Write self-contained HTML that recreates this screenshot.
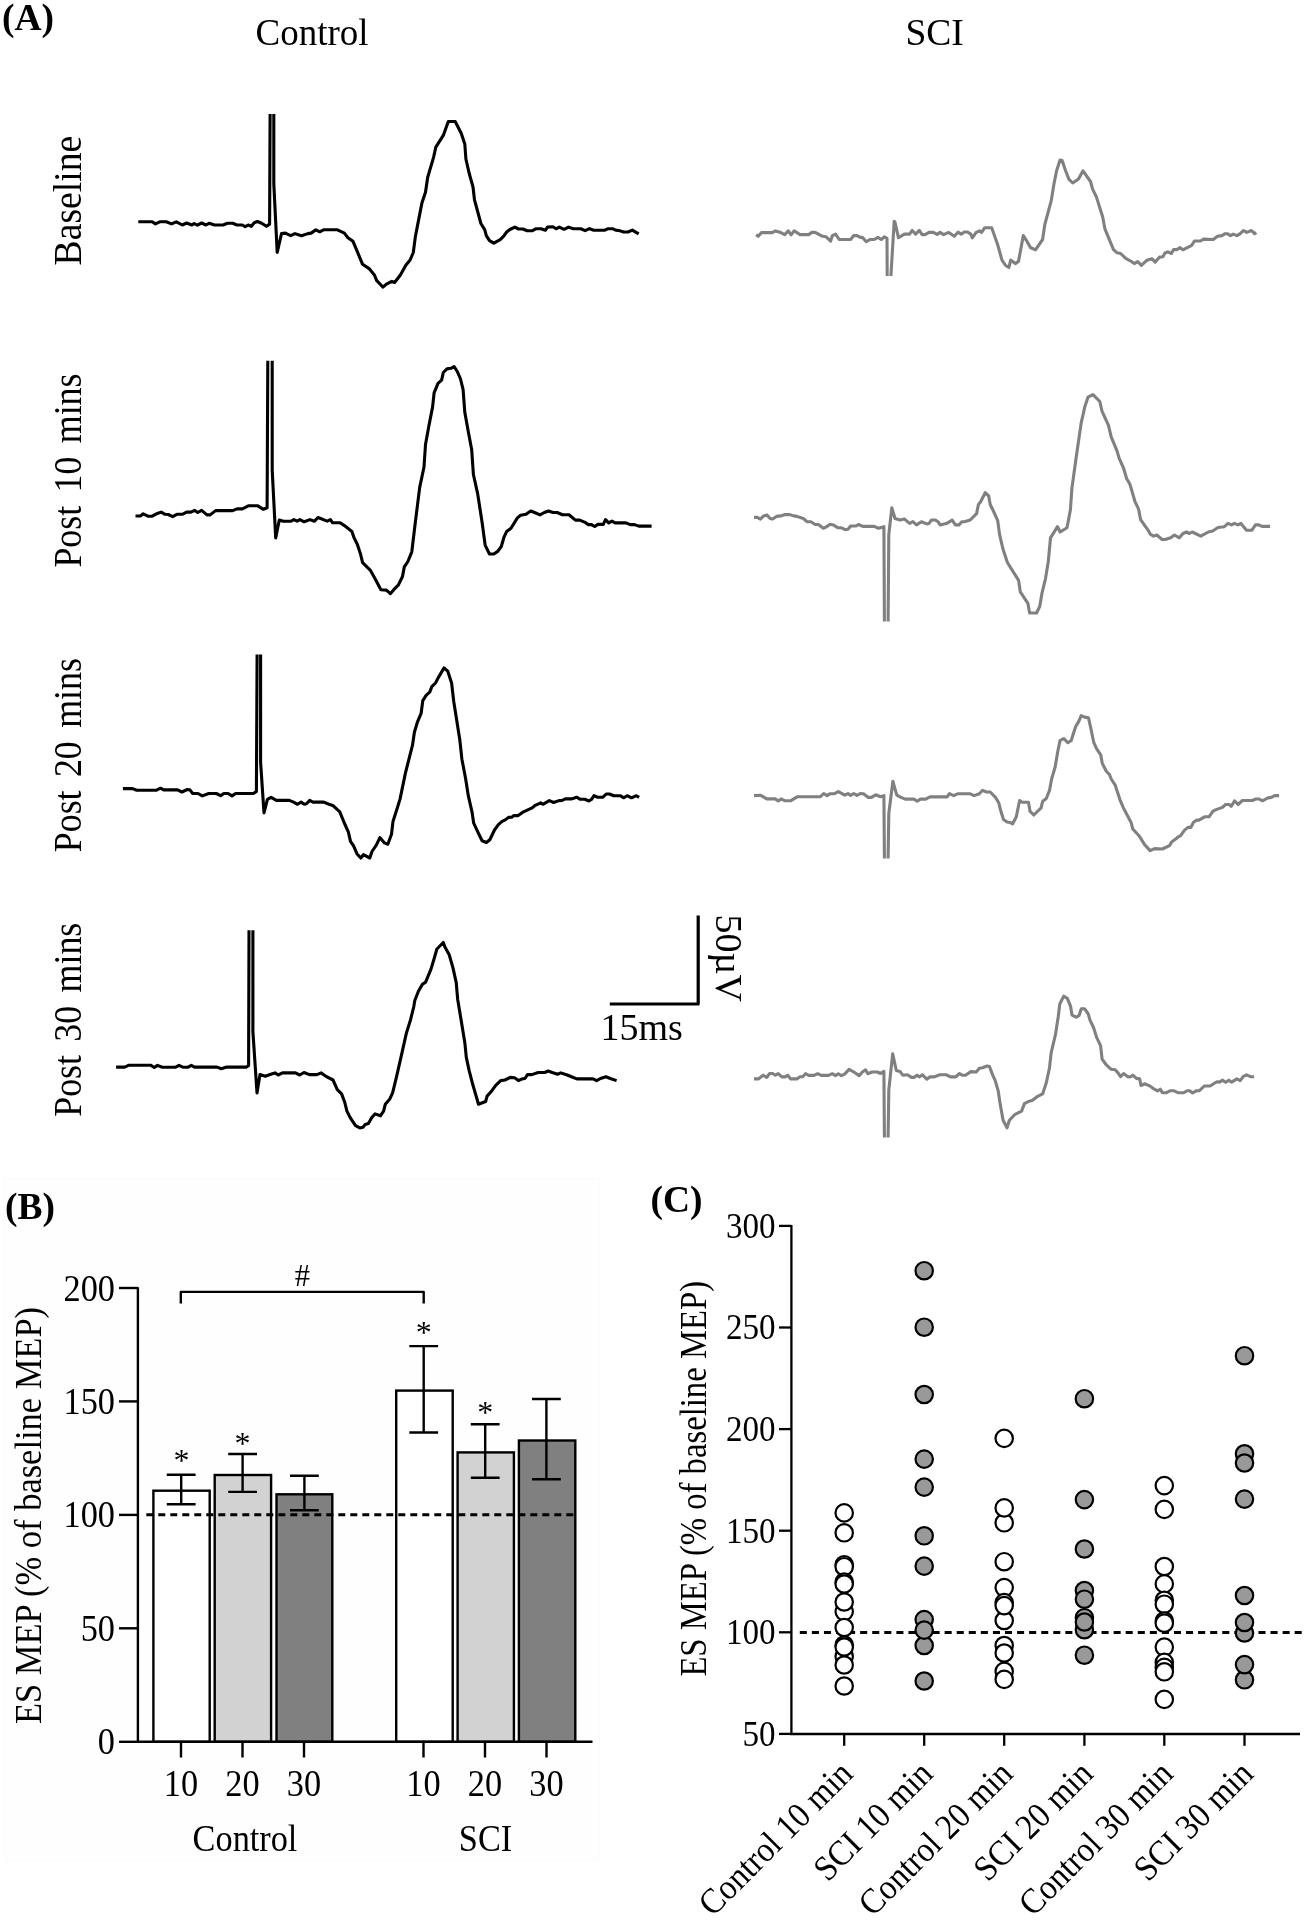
<!DOCTYPE html>
<html><head><meta charset="utf-8"><title>Figure</title>
<style>
html,body{margin:0;padding:0;background:#fff;}
body{width:1304px;height:1927px;overflow:hidden;font-family:"Liberation Serif",serif;}
svg{display:block;filter:blur(0.65px)}
svg text{font-family:"Liberation Serif",serif;fill:#000}
</style></head><body>
<svg width="1304" height="1927" viewBox="0 0 1304 1927">
<rect width="1304" height="1927" fill="#fff"/>
<path d="M138.3 221.8 L152.2 221.8 L155.4 223.9 L159.7 221.8 L166.2 221.8 L171.5 223.9 L176.3 221.8 L182.3 225.0 L186.6 223.0 L191.9 225.0 L194.1 223.5 L197.3 225.2 L201.6 223.0 L205.9 225.0 L209.1 223.3 L214.5 225.0 L223.1 225.0 L227.4 223.3 L232.7 223.3 L237.0 225.0 L242.4 225.0 L245.2 226.7 L248.2 225.0 L251.4 226.3 L254.2 222.8 L257.4 221.5 L261.7 223.3 L266.4 226.3 L269.6 224.1 L270.1 114.0 M273.8 114.0 L273.8 183.7 L277.2 252.5 L281.5 233.6 L285.3 233.1 L290.7 235.7 L295.0 233.6 L301.4 235.7 L307.9 233.6 L311.1 233.1 L315.8 229.9 L319.7 231.8 L324.0 229.7 L336.9 229.7 L344.4 233.1 L347.6 237.4 L353.0 241.3 L362.6 264.3 L369.1 268.6 L374.4 275.0 L376.6 280.4 L383.0 287.2 L386.4 284.2 L391.8 281.4 L394.6 282.5 L400.4 275.0 L405.8 265.3 L410.1 260.0 L413.3 252.5 L415.4 236.4 L421.9 203.1 L425.5 192.3 L427.7 177.3 L433.7 156.9 L435.8 147.2 L443.3 135.4 L448.3 121.5 L455.2 121.5 L461.2 133.3 L464.8 144.0 L465.9 159.0 L469.1 173.0 L473.0 187.0 L474.5 199.8 L480.9 223.5 L484.8 229.9 L486.3 235.7 L489.5 240.6 L493.8 243.2 L497.0 241.3 L500.2 239.6 L503.5 236.4 L506.7 232.0 L509.9 229.5 L514.8 227.1 L518.5 229.0 L522.8 229.0 L527.1 230.8 L532.0 230.8 L535.7 228.8 L541.0 228.8 L545.3 230.3 L547.5 227.1 L552.9 226.7 L556.1 228.8 L559.3 227.1 L564.2 229.3 L568.5 227.1 L573.3 228.8 L580.8 228.8 L585.1 230.6 L589.4 228.6 L593.7 230.3 L604.4 230.3 L607.6 228.8 L613.0 228.8 L616.2 230.3 L619.4 230.6 L623.7 232.0 L628.0 232.0 L632.3 230.1 L638.7 233.8" fill="none" stroke="#000" stroke-width="3.1" stroke-linejoin="round" stroke-linecap="butt"/>
<path d="M135.5 516.0 L140.4 516.0 L143.2 513.8 L147.9 516.2 L152.2 516.2 L156.5 513.8 L161.2 512.1 L165.1 514.3 L168.3 514.5 L172.6 516.6 L176.9 514.3 L182.3 514.3 L186.6 512.1 L190.9 512.1 L194.7 510.4 L197.7 512.5 L201.6 510.4 L207.0 514.9 L210.2 514.9 L215.6 510.6 L232.7 510.6 L237.0 508.9 L242.4 508.9 L248.8 505.7 L257.4 505.7 L263.4 509.3 L267.1 507.8 L267.8 360.7 M272.2 360.7 L272.2 470.2 L275.7 537.9 L279.3 520.0 L283.2 521.3 L290.7 521.3 L293.9 519.6 L297.1 521.1 L299.9 519.6 L304.2 521.8 L310.0 519.6 L314.3 521.3 L318.0 517.5 L327.2 521.1 L330.4 519.6 L332.6 522.8 L340.1 522.8 L344.4 525.6 L351.9 531.4 L354.1 537.9 L357.3 544.3 L360.5 554.0 L362.6 562.6 L370.2 570.1 L374.4 577.6 L380.9 589.8 L386.4 590.1 L390.3 593.7 L394.0 589.4 L398.3 585.1 L402.5 576.5 L404.3 566.9 L407.9 561.5 L411.8 551.8 L415.4 521.8 L419.7 487.4 L424.0 467.0 L425.5 444.5 L429.0 425.2 L432.6 406.9 L434.1 392.9 L438.0 383.3 L441.6 380.1 L443.3 372.5 L447.0 368.9 L450.9 368.3 L454.1 366.7 L457.3 371.5 L460.5 379.0 L463.1 389.7 L464.8 412.3 L468.5 432.7 L471.7 449.8 L473.4 474.5 L477.7 493.9 L482.0 521.8 L485.2 545.4 L489.5 554.0 L493.8 554.0 L497.7 551.4 L501.3 546.5 L504.1 536.8 L506.7 531.4 L511.0 528.2 L517.4 517.9 L520.6 515.3 L526.0 514.3 L530.7 511.0 L534.6 512.5 L540.0 514.9 L544.3 512.5 L548.6 511.0 L552.9 512.5 L557.1 512.5 L562.5 514.7 L569.0 514.7 L575.4 520.1 L579.7 520.1 L585.1 522.4 L588.3 524.6 L591.5 524.6 L594.7 526.5 L597.9 524.4 L603.3 524.4 L605.5 519.6 L608.7 522.9 L611.9 521.1 L615.1 522.9 L625.9 522.9 L630.2 524.6 L634.5 524.6 L638.7 526.1 L651.6 526.1" fill="none" stroke="#000" stroke-width="3.1" stroke-linejoin="round" stroke-linecap="butt"/>
<path d="M122.9 788.6 L132.5 788.6 L136.8 790.3 L156.2 790.3 L160.5 788.2 L163.7 789.9 L177.6 789.9 L181.9 792.0 L187.3 789.5 L189.9 789.9 L192.7 793.5 L198.0 793.5 L202.3 795.9 L208.8 793.5 L216.3 793.5 L220.6 795.7 L223.8 793.5 L228.1 793.5 L232.0 795.9 L235.6 793.5 L253.4 793.5 L256.4 791.4 L257.1 654.6 M260.6 654.6 L260.6 762.4 L264.0 812.9 L267.4 799.3 L271.0 797.4 L276.4 800.4 L289.3 800.4 L293.6 802.1 L297.5 804.3 L301.1 802.1 L304.3 804.3 L306.5 803.8 L309.7 800.4 L312.9 802.1 L323.7 802.1 L329.0 804.3 L333.3 805.8 L339.8 811.8 L344.1 822.5 L348.4 832.2 L350.5 841.4 L353.7 846.1 L356.9 853.7 L360.8 858.0 L363.4 854.7 L369.8 858.0 L372.0 851.5 L376.3 845.1 L379.9 837.6 L384.5 842.9 L387.8 844.2 L391.5 834.3 L393.0 821.4 L396.8 809.6 L400.1 798.9 L405.4 773.1 L412.5 745.2 L414.4 732.3 L417.2 722.7 L421.1 713.4 L422.8 700.6 L426.3 695.2 L429.7 692.2 L431.8 686.6 L435.5 683.0 L438.7 676.9 L444.1 667.9 L447.7 671.1 L451.6 682.9 L453.7 701.2 L459.8 739.8 L461.9 759.2 L465.6 778.5 L468.3 795.7 L472.0 811.8 L473.7 823.2 L477.4 831.1 L482.1 840.8 L486.4 842.5 L489.8 839.7 L494.5 830.0 L498.4 824.7 L502.1 821.4 L505.3 819.9 L508.5 817.4 L511.7 817.2 L513.9 815.6 L518.2 815.6 L523.5 811.8 L532.1 807.9 L535.3 805.3 L540.7 802.8 L542.9 804.3 L549.3 800.6 L553.6 802.5 L559.0 800.6 L562.2 800.4 L565.4 798.9 L571.8 798.9 L576.6 797.2 L580.4 799.3 L584.7 799.3 L589.0 801.0 L591.6 799.3 L594.0 795.7 L597.6 797.2 L603.0 797.2 L606.2 794.0 L609.4 794.0 L613.7 795.7 L620.2 795.7 L623.8 797.8 L627.2 795.7 L631.5 797.8 L636.3 795.7 L639.1 797.4" fill="none" stroke="#000" stroke-width="3.1" stroke-linejoin="round" stroke-linecap="butt"/>
<path d="M116.1 1067.1 L124.7 1067.1 L129.0 1065.2 L150.5 1065.2 L154.3 1067.5 L157.5 1065.4 L162.3 1067.3 L175.2 1067.3 L179.0 1065.4 L183.3 1067.3 L187.6 1067.3 L191.3 1065.4 L194.5 1067.1 L217.0 1067.1 L221.3 1068.8 L226.7 1067.1 L246.4 1067.1 L248.6 1065.4 L249.0 930.3 M252.9 930.3 L252.9 1031.7 L257.0 1092.9 L260.0 1074.6 L265.3 1076.3 L270.7 1074.2 L275.0 1072.9 L278.2 1075.0 L282.5 1072.9 L295.4 1072.9 L299.7 1075.0 L304.0 1072.5 L309.4 1074.6 L316.9 1074.6 L321.2 1072.9 L325.5 1076.1 L333.0 1080.0 L337.3 1089.6 L341.6 1093.9 L344.8 1102.5 L346.9 1111.1 L350.2 1117.6 L355.5 1125.7 L359.8 1127.9 L363.0 1127.2 L365.2 1124.4 L368.4 1123.6 L371.8 1117.6 L375.0 1113.9 L380.4 1115.8 L383.6 1111.1 L385.3 1104.2 L389.6 1099.3 L392.6 1092.9 L396.5 1076.8 L401.9 1053.1 L406.2 1033.8 L410.5 1019.9 L413.7 1007.0 L414.8 1000.5 L418.4 991.3 L422.3 984.4 L425.5 982.3 L430.9 969.4 L434.1 958.7 L436.9 949.0 L443.3 942.5 L444.8 946.8 L449.1 954.4 L452.8 967.2 L456.2 982.3 L457.7 999.5 L460.9 1018.8 L464.8 1042.4 L466.3 1057.4 L469.1 1070.3 L472.7 1084.3 L478.5 1104.2 L485.6 1101.5 L487.1 1096.1 L491.0 1091.8 L495.7 1085.4 L500.7 1080.6 L504.9 1080.0 L510.3 1077.4 L514.6 1077.8 L518.5 1080.6 L522.1 1078.9 L524.9 1078.5 L527.5 1074.6 L531.8 1074.6 L538.2 1072.5 L544.7 1072.5 L548.3 1071.0 L552.2 1072.5 L557.6 1074.2 L560.8 1072.9 L567.2 1075.0 L571.5 1076.8 L576.9 1078.9 L593.0 1078.9 L596.6 1080.6 L600.5 1078.5 L605.9 1076.8 L610.2 1078.5 L616.6 1080.6" fill="none" stroke="#000" stroke-width="3.1" stroke-linejoin="round" stroke-linecap="butt"/>
<path d="M756.1 234.8 L758.3 236.3 L761.5 232.6 L772.2 232.6 L775.4 230.9 L780.8 232.6 L784.7 234.6 L788.3 230.9 L791.1 234.8 L794.1 230.9 L800.1 234.6 L808.7 234.6 L811.9 232.4 L815.2 232.4 L821.6 235.9 L825.9 236.7 L830.6 241.2 L832.3 235.6 L835.6 234.1 L839.2 239.5 L850.6 239.5 L853.8 235.6 L857.0 235.6 L860.3 237.4 L862.4 237.4 L866.3 241.7 L869.9 239.5 L874.2 239.5 L877.9 237.4 L881.3 239.5 L884.3 236.9 L887.0 238.4 L887.2 276.0 M890.9 276.0 L894.2 221.3 L895.0 222.3 L898.5 237.8 L904.3 234.1 L909.6 234.1 L912.2 230.5 L915.6 234.1 L919.3 230.3 L922.1 234.6 L925.1 234.6 L929.0 232.4 L933.3 232.4 L937.1 234.4 L940.1 232.4 L943.6 234.6 L948.7 232.4 L954.3 236.3 L958.0 232.2 L961.2 234.1 L964.4 232.0 L967.6 232.0 L970.8 234.1 L972.3 237.8 L976.2 232.4 L979.4 230.9 L981.6 232.4 L984.8 227.7 L991.7 227.7 L997.6 244.4 L1001.9 259.9 L1005.6 265.5 L1008.9 267.4 L1010.7 260.1 L1015.3 263.6 L1018.5 261.4 L1023.3 235.6 L1026.5 240.6 L1030.4 247.5 L1035.5 249.8 L1042.6 239.5 L1044.8 224.5 L1051.2 200.9 L1054.0 183.7 L1056.6 170.8 L1060.0 160.1 L1062.1 160.5 L1065.6 170.8 L1069.0 179.4 L1072.7 183.0 L1078.5 179.0 L1083.0 170.8 L1090.5 181.5 L1092.6 189.1 L1096.3 196.6 L1102.7 217.0 L1104.9 228.8 L1110.2 241.7 L1113.5 249.6 L1117.1 252.8 L1120.6 253.5 L1125.7 258.4 L1130.6 261.0 L1134.3 263.6 L1137.7 261.6 L1141.4 265.3 L1146.8 260.3 L1152.1 258.8 L1155.3 262.1 L1159.6 257.1 L1162.9 256.7 L1165.0 253.0 L1167.8 251.8 L1171.4 253.5 L1173.6 249.6 L1176.8 249.6 L1180.0 247.7 L1182.8 249.8 L1191.8 245.3 L1194.4 241.0 L1200.4 241.0 L1203.7 239.1 L1213.3 239.5 L1217.6 236.3 L1221.9 235.6 L1225.1 233.7 L1227.3 233.7 L1230.5 235.6 L1233.3 234.1 L1236.9 235.6 L1240.2 233.7 L1243.4 230.5 L1246.6 232.4 L1251.5 230.5 L1254.6 233.7 L1256.3 232.4" fill="none" stroke="#808080" stroke-width="3.1" stroke-linejoin="round" stroke-linecap="butt"/>
<path d="M754.0 517.4 L757.2 517.4 L760.4 519.1 L763.6 515.9 L766.8 514.9 L770.1 518.5 L772.6 519.1 L776.5 516.4 L780.8 515.9 L785.1 514.6 L789.8 514.6 L793.7 515.9 L796.9 516.4 L803.3 518.5 L807.0 521.7 L810.9 521.7 L815.2 524.5 L818.4 524.5 L823.3 528.2 L825.9 527.1 L830.2 524.3 L833.4 524.9 L837.7 527.7 L840.9 527.7 L845.2 529.7 L848.0 529.2 L850.6 526.0 L856.0 526.0 L858.5 524.5 L862.8 526.4 L874.2 526.4 L878.5 528.2 L883.9 526.7 L884.4 621.6 M888.1 621.6 L888.8 534.6 L891.8 507.8 L895.0 518.5 L900.0 520.0 L904.3 518.9 L909.6 523.4 L912.9 521.7 L916.5 524.9 L921.4 521.7 L926.8 523.9 L929.0 523.4 L931.5 520.0 L935.4 520.0 L938.0 521.7 L940.1 524.9 L947.2 523.2 L952.2 520.2 L955.4 524.9 L959.0 524.9 L961.8 521.7 L964.4 521.7 L970.2 520.0 L976.6 513.6 L978.4 504.5 L980.5 502.0 L985.2 492.7 L988.7 496.0 L990.2 504.5 L993.4 511.0 L997.7 520.6 L999.6 534.6 L1003.1 549.6 L1007.4 562.5 L1012.8 571.1 L1018.6 580.3 L1020.3 591.8 L1027.9 603.3 L1029.6 613.0 L1036.5 613.0 L1039.7 606.5 L1041.9 593.7 L1045.5 578.6 L1048.3 561.4 L1050.5 537.8 L1057.5 526.7 L1060.1 532.0 L1067.0 527.7 L1070.4 509.9 L1071.9 488.4 L1076.2 457.3 L1081.2 422.9 L1084.8 406.8 L1088.0 397.2 L1093.0 394.6 L1099.8 401.5 L1102.0 411.1 L1108.4 425.1 L1111.2 436.9 L1117.0 450.9 L1119.2 458.4 L1123.5 468.0 L1126.7 478.8 L1129.9 484.1 L1134.9 501.3 L1138.5 508.8 L1140.6 519.6 L1148.2 530.3 L1150.3 534.2 L1153.5 536.1 L1156.8 535.0 L1162.1 539.5 L1165.3 539.5 L1170.7 537.8 L1174.4 535.0 L1179.3 537.8 L1183.0 533.5 L1186.4 532.0 L1189.4 533.5 L1192.2 532.0 L1200.8 536.1 L1208.3 532.0 L1212.6 531.0 L1218.0 527.5 L1224.4 526.7 L1228.0 523.4 L1231.5 524.9 L1234.5 523.4 L1237.9 524.9 L1240.9 523.4 L1246.5 530.3 L1251.7 530.3 L1255.5 524.9 L1258.8 524.9 L1262.0 526.4 L1270.1 526.4" fill="none" stroke="#808080" stroke-width="3.1" stroke-linejoin="round" stroke-linecap="butt"/>
<path d="M754.0 795.6 L760.4 795.2 L766.8 798.9 L775.4 798.9 L778.2 801.0 L781.2 798.9 L785.1 800.8 L790.5 800.8 L797.5 796.7 L820.5 796.7 L823.7 793.5 L827.0 795.6 L830.2 793.7 L834.5 793.7 L838.3 791.6 L844.8 795.2 L848.0 793.5 L850.6 795.4 L853.8 793.5 L857.0 795.4 L860.3 793.5 L863.5 793.7 L868.4 797.4 L871.4 797.4 L875.7 794.8 L880.6 796.7 L883.9 795.6 L884.4 858.6 M888.1 858.6 L888.8 813.5 L892.9 781.3 L896.8 795.2 L901.0 797.4 L905.3 799.1 L913.9 799.1 L917.2 801.2 L920.4 799.1 L925.7 799.1 L930.0 796.9 L947.2 796.9 L949.4 793.7 L953.7 795.6 L958.0 793.7 L969.8 793.7 L974.1 795.6 L979.4 793.7 L982.6 790.3 L986.5 792.0 L990.2 792.0 L995.5 797.4 L998.7 802.7 L1000.9 811.3 L1003.5 819.5 L1007.0 822.0 L1010.1 822.5 L1012.7 823.8 L1016.3 816.7 L1019.6 800.5 L1022.2 802.3 L1028.5 802.3 L1030.0 811.2 L1033.8 815.0 L1041.1 807.9 L1042.7 801.2 L1046.3 798.5 L1049.6 790.1 L1051.6 779.0 L1055.2 766.7 L1057.8 751.2 L1060.0 740.7 L1063.8 738.5 L1067.8 742.7 L1071.2 740.5 L1075.6 726.7 L1078.9 721.1 L1081.2 715.6 L1084.5 717.1 L1088.5 717.8 L1091.2 730.0 L1093.8 742.7 L1096.7 748.9 L1100.7 754.9 L1102.3 763.4 L1106.3 771.2 L1109.4 774.5 L1111.2 779.0 L1115.2 785.2 L1120.1 800.1 L1123.4 807.9 L1131.2 822.8 L1132.8 829.0 L1139.0 835.7 L1144.6 844.6 L1150.1 850.6 L1154.6 848.6 L1162.3 849.0 L1169.5 845.7 L1171.7 841.9 L1177.9 837.2 L1180.6 835.7 L1184.6 830.1 L1187.9 827.4 L1190.8 827.4 L1193.5 822.3 L1196.8 820.1 L1199.0 820.1 L1204.6 816.8 L1209.0 816.8 L1213.0 811.2 L1216.8 809.4 L1222.4 807.4 L1225.7 804.5 L1229.1 804.5 L1231.3 806.3 L1234.6 800.8 L1238.0 804.5 L1242.4 800.5 L1252.4 800.5 L1255.8 799.0 L1259.1 799.0 L1262.4 800.8 L1268.0 797.9 L1271.3 797.4 L1274.7 795.6 L1279.1 795.6" fill="none" stroke="#808080" stroke-width="3.1" stroke-linejoin="round" stroke-linecap="butt"/>
<path d="M754.0 1078.9 L758.3 1078.9 L763.2 1075.2 L766.8 1077.4 L769.6 1073.5 L772.6 1073.5 L775.4 1075.2 L778.2 1073.7 L781.9 1076.9 L785.1 1076.9 L787.7 1075.2 L790.5 1078.9 L796.9 1078.9 L800.1 1076.7 L802.7 1076.7 L805.5 1073.7 L808.7 1075.4 L814.1 1075.4 L817.7 1073.7 L821.2 1075.4 L828.5 1075.4 L832.3 1073.7 L835.6 1075.6 L838.3 1073.7 L841.4 1075.6 L844.6 1074.1 L849.1 1069.4 L853.8 1072.0 L859.2 1075.6 L862.4 1072.0 L865.6 1069.8 L867.8 1073.7 L872.1 1072.0 L877.4 1072.0 L880.6 1073.5 L883.9 1071.4 L884.4 1137.5 M888.1 1137.5 L888.8 1090.2 L892.7 1053.7 L896.3 1070.5 L900.0 1071.4 L902.8 1075.2 L907.5 1074.8 L911.4 1077.4 L913.9 1077.4 L917.2 1075.2 L919.3 1076.9 L922.5 1074.8 L926.8 1079.1 L930.0 1076.9 L934.3 1076.9 L939.7 1074.8 L946.6 1074.8 L950.4 1076.9 L955.8 1076.9 L959.5 1073.5 L962.2 1075.2 L965.5 1075.2 L970.8 1071.6 L976.2 1072.0 L979.4 1068.3 L982.6 1067.7 L986.9 1066.0 L989.5 1066.6 L992.3 1074.1 L995.2 1080.6 L998.3 1091.3 L1000.0 1103.1 L1003.1 1120.3 L1007.0 1127.8 L1009.4 1120.3 L1015.1 1114.3 L1021.6 1111.1 L1024.4 1103.6 L1028.7 1101.4 L1032.5 1100.3 L1037.7 1096.3 L1042.6 1093.9 L1046.3 1082.7 L1049.5 1067.7 L1051.2 1052.7 L1055.5 1034.4 L1058.3 1016.2 L1059.8 1003.9 L1063.7 996.2 L1067.3 998.3 L1070.5 1006.1 L1072.0 1015.1 L1076.3 1017.2 L1079.1 1015.5 L1081.3 1008.7 L1084.5 1008.7 L1088.3 1014.0 L1089.9 1019.8 L1093.7 1028.0 L1096.7 1037.6 L1100.6 1045.6 L1102.1 1059.1 L1106.0 1064.5 L1110.9 1069.2 L1115.2 1069.8 L1118.2 1073.1 L1120.6 1076.7 L1123.6 1073.5 L1127.9 1076.9 L1130.6 1076.7 L1132.8 1075.2 L1136.4 1078.4 L1139.7 1078.9 L1141.0 1085.5 L1145.0 1083.8 L1150.6 1086.4 L1154.3 1089.2 L1157.5 1090.9 L1160.3 1089.2 L1162.4 1092.8 L1166.1 1092.8 L1170.4 1090.7 L1173.6 1090.7 L1178.5 1092.8 L1183.3 1092.8 L1187.6 1090.7 L1189.7 1090.7 L1192.5 1093.0 L1196.1 1090.9 L1199.4 1090.7 L1204.3 1086.0 L1210.1 1086.0 L1214.4 1083.2 L1217.6 1081.7 L1219.8 1082.1 L1222.3 1080.2 L1225.8 1082.3 L1228.8 1080.2 L1231.6 1082.1 L1236.9 1078.9 L1240.2 1080.6 L1243.4 1076.3 L1246.6 1074.8 L1250.5 1076.7 L1254.1 1076.7" fill="none" stroke="#808080" stroke-width="3.1" stroke-linejoin="round" stroke-linecap="butt"/>
<text font-size="37.5" text-anchor="start" font-weight="bold" transform="translate(2 29.8)">(A)</text>
<text font-size="37" text-anchor="start" font-weight="normal" transform="translate(255.5 45)">Control</text>
<text font-size="37.5" text-anchor="start" font-weight="normal" transform="translate(905.5 45)">SCI</text>
<text font-size="40.5" style="word-spacing:0px" transform="translate(81.2 265.4) rotate(-90) scale(0.93 1)">Baseline</text>
<text font-size="40.5" style="word-spacing:5px" transform="translate(81.2 567.6) rotate(-90) scale(0.885 1)">Post 10 mins</text>
<text font-size="40.5" style="word-spacing:5px" transform="translate(81.2 852.2) rotate(-90) scale(0.885 1)">Post 20 mins</text>
<text font-size="40.5" style="word-spacing:5px" transform="translate(81.2 1116.8) rotate(-90) scale(0.885 1)">Post 30 mins</text>
<path d="M609.8 1004 L698.2 1004 L698.2 915.4" fill="none" stroke="#000" stroke-width="3.2" stroke-linejoin="round"/>
<text font-size="38" text-anchor="start" font-weight="normal" transform="translate(600.5 1039.5)">15ms</text>
<text font-size="38" text-anchor="start" font-weight="normal" transform="translate(716 914.5) rotate(90)">50µV</text>
<rect x="4.5" y="1178.5" width="595" height="682" fill="#fefefe" stroke="#fbfbfb" stroke-width="1"/>
<text font-size="37.5" text-anchor="start" font-weight="bold" transform="translate(5 1218.7)">(B)</text>
<rect x="153.4" y="1490.7" width="56.3" height="251.1" fill="#fff" stroke="#000" stroke-width="2.4"/>
<rect x="214.7" y="1475" width="56.4" height="266.8" fill="#d2d2d2" stroke="#000" stroke-width="2.4"/>
<rect x="276.5" y="1494.3" width="55.8" height="247.5" fill="#808080" stroke="#000" stroke-width="2.4"/>
<rect x="396.2" y="1390.6" width="56.5" height="351.2" fill="#fff" stroke="#000" stroke-width="2.4"/>
<rect x="457.6" y="1452.4" width="56.3" height="289.4" fill="#d2d2d2" stroke="#000" stroke-width="2.4"/>
<rect x="518.9" y="1440.5" width="56.4" height="301.3" fill="#808080" stroke="#000" stroke-width="2.4"/>
<path d="M146.3 1514.8 L576 1514.8" stroke="#000" stroke-width="3" stroke-dasharray="7 5" fill="none"/>
<path d="M181.2 1474.8 L181.2 1504.3 M166.79999999999998 1474.8 L195.6 1474.8 M166.79999999999998 1504.3 L195.6 1504.3" stroke="#000" stroke-width="2.4" fill="none"/>
<path d="M242.6 1454 L242.6 1491.9 M228.2 1454 L257.0 1454 M228.2 1491.9 L257.0 1491.9" stroke="#000" stroke-width="2.4" fill="none"/>
<path d="M304.4 1475.8 L304.4 1510.2 M290.0 1475.8 L318.79999999999995 1475.8 M290.0 1510.2 L318.79999999999995 1510.2" stroke="#000" stroke-width="2.4" fill="none"/>
<path d="M423.7 1346.1 L423.7 1432.5 M409.3 1346.1 L438.09999999999997 1346.1 M409.3 1432.5 L438.09999999999997 1432.5" stroke="#000" stroke-width="2.4" fill="none"/>
<path d="M485.2 1424.3 L485.2 1477.7 M470.8 1424.3 L499.59999999999997 1424.3 M470.8 1477.7 L499.59999999999997 1477.7" stroke="#000" stroke-width="2.4" fill="none"/>
<path d="M546.4 1399 L546.4 1479.3 M532.0 1399 L560.8 1399 M532.0 1479.3 L560.8 1479.3" stroke="#000" stroke-width="2.4" fill="none"/>
<path d="M137.9 1287.3 L137.9 1741.8 L592.5 1741.8" fill="none" stroke="#000" stroke-width="2.4"/>
<path d="M119 1741.8 L137.9 1741.8" stroke="#000" stroke-width="2.4"/>
<text font-size="37.4" text-anchor="end" font-weight="normal" transform="translate(115 1754.3) scale(0.917 1)">0</text>
<path d="M119 1628.3 L137.9 1628.3" stroke="#000" stroke-width="2.4"/>
<text font-size="37.4" text-anchor="end" font-weight="normal" transform="translate(115 1640.8) scale(0.917 1)">50</text>
<path d="M119 1514.9 L137.9 1514.9" stroke="#000" stroke-width="2.4"/>
<text font-size="37.4" text-anchor="end" font-weight="normal" transform="translate(115 1527.4) scale(0.917 1)">100</text>
<path d="M119 1401.4 L137.9 1401.4" stroke="#000" stroke-width="2.4"/>
<text font-size="37.4" text-anchor="end" font-weight="normal" transform="translate(115 1413.9) scale(0.917 1)">150</text>
<path d="M119 1288.0 L137.9 1288.0" stroke="#000" stroke-width="2.4"/>
<text font-size="37.4" text-anchor="end" font-weight="normal" transform="translate(115 1300.5) scale(0.917 1)">200</text>
<path d="M181 1741.8 L181 1757.5" stroke="#000" stroke-width="2.4"/>
<text font-size="37.4" text-anchor="middle" font-weight="normal" transform="translate(181 1796.3) scale(0.917 1)">10</text>
<path d="M242.5 1741.8 L242.5 1757.5" stroke="#000" stroke-width="2.4"/>
<text font-size="37.4" text-anchor="middle" font-weight="normal" transform="translate(242.5 1796.3) scale(0.917 1)">20</text>
<path d="M304 1741.8 L304 1757.5" stroke="#000" stroke-width="2.4"/>
<text font-size="37.4" text-anchor="middle" font-weight="normal" transform="translate(304 1796.3) scale(0.917 1)">30</text>
<path d="M423.5 1741.8 L423.5 1757.5" stroke="#000" stroke-width="2.4"/>
<text font-size="37.4" text-anchor="middle" font-weight="normal" transform="translate(423.5 1796.3) scale(0.917 1)">10</text>
<path d="M485 1741.8 L485 1757.5" stroke="#000" stroke-width="2.4"/>
<text font-size="37.4" text-anchor="middle" font-weight="normal" transform="translate(485 1796.3) scale(0.917 1)">20</text>
<path d="M546.5 1741.8 L546.5 1757.5" stroke="#000" stroke-width="2.4"/>
<text font-size="37.4" text-anchor="middle" font-weight="normal" transform="translate(546.5 1796.3) scale(0.917 1)">30</text>
<text font-size="37.4" text-anchor="middle" font-weight="normal" transform="translate(245 1850.5) scale(0.917 1)">Control</text>
<text font-size="37.4" text-anchor="middle" font-weight="normal" transform="translate(485.5 1850.5) scale(0.917 1)">SCI</text>
<text font-size="37" text-anchor="middle" font-weight="normal" transform="translate(40.5 1515.5) rotate(-90) scale(0.932 1)">ES MEP (% of baseline MEP)</text>
<path d="M180.8 1303.5 L180.8 1291.9 L423.7 1291.9 L423.7 1303.5" fill="none" stroke="#000" stroke-width="2.4" stroke-linejoin="round"/>
<text font-size="30.5" text-anchor="middle" font-weight="normal" transform="translate(302.4 1286)">#</text>
<text font-size="32" text-anchor="middle" font-weight="normal" transform="translate(181.4 1471.1)">*</text>
<text font-size="32" text-anchor="middle" font-weight="normal" transform="translate(242.6 1453.6)">*</text>
<text font-size="32" text-anchor="middle" font-weight="normal" transform="translate(423.7 1342.9)">*</text>
<text font-size="32" text-anchor="middle" font-weight="normal" transform="translate(485.2 1422.7)">*</text>
<text font-size="37.5" text-anchor="start" font-weight="bold" transform="translate(650.5 1212)">(C)</text>
<path d="M799.8 1632.5 L1302 1632.5" stroke="#000" stroke-width="3" stroke-dasharray="7.05 5.02" fill="none"/>
<circle cx="844.2" cy="1512.9" r="8.7" fill="#fff" stroke="#000" stroke-width="2.2"/>
<circle cx="844.2" cy="1532.8" r="8.7" fill="#fff" stroke="#000" stroke-width="2.2"/>
<circle cx="844.2" cy="1564.7" r="8.7" fill="#fff" stroke="#000" stroke-width="2.2"/>
<circle cx="844.2" cy="1566.7" r="8.7" fill="#fff" stroke="#000" stroke-width="2.2"/>
<circle cx="844.2" cy="1582" r="8.7" fill="#fff" stroke="#000" stroke-width="2.2"/>
<circle cx="844.2" cy="1584" r="8.7" fill="#fff" stroke="#000" stroke-width="2.2"/>
<circle cx="844.2" cy="1611.6" r="8.7" fill="#fff" stroke="#000" stroke-width="2.2"/>
<circle cx="844.2" cy="1602" r="8.7" fill="#fff" stroke="#000" stroke-width="2.2"/>
<circle cx="844.2" cy="1627.5" r="8.7" fill="#fff" stroke="#000" stroke-width="2.2"/>
<circle cx="844.2" cy="1656.4" r="8.7" fill="#fff" stroke="#000" stroke-width="2.2"/>
<circle cx="844.2" cy="1645" r="8.7" fill="#fff" stroke="#000" stroke-width="2.2"/>
<circle cx="844.2" cy="1647" r="8.7" fill="#fff" stroke="#000" stroke-width="2.2"/>
<circle cx="844.2" cy="1665" r="8.7" fill="#fff" stroke="#000" stroke-width="2.2"/>
<circle cx="844.2" cy="1686" r="8.7" fill="#fff" stroke="#000" stroke-width="2.2"/>
<circle cx="924.2" cy="1270.7" r="8.7" fill="#999" stroke="#000" stroke-width="2.2"/>
<circle cx="924.2" cy="1327.2" r="8.7" fill="#999" stroke="#000" stroke-width="2.2"/>
<circle cx="924.2" cy="1394.5" r="8.7" fill="#999" stroke="#000" stroke-width="2.2"/>
<circle cx="924.2" cy="1459.1" r="8.7" fill="#999" stroke="#000" stroke-width="2.2"/>
<circle cx="924.2" cy="1487.1" r="8.7" fill="#999" stroke="#000" stroke-width="2.2"/>
<circle cx="924.2" cy="1535.8" r="8.7" fill="#999" stroke="#000" stroke-width="2.2"/>
<circle cx="924.2" cy="1566.1" r="8.7" fill="#999" stroke="#000" stroke-width="2.2"/>
<circle cx="924.2" cy="1619.6" r="8.7" fill="#999" stroke="#000" stroke-width="2.2"/>
<circle cx="924.2" cy="1645.5" r="8.7" fill="#999" stroke="#000" stroke-width="2.2"/>
<circle cx="924.2" cy="1630.1" r="8.7" fill="#999" stroke="#000" stroke-width="2.2"/>
<circle cx="924.2" cy="1681" r="8.7" fill="#999" stroke="#000" stroke-width="2.2"/>
<circle cx="1004.2" cy="1438.4" r="8.7" fill="#fff" stroke="#000" stroke-width="2.2"/>
<circle cx="1004.2" cy="1522.8" r="8.7" fill="#fff" stroke="#000" stroke-width="2.2"/>
<circle cx="1004.2" cy="1507.9" r="8.7" fill="#fff" stroke="#000" stroke-width="2.2"/>
<circle cx="1004.2" cy="1561.7" r="8.7" fill="#fff" stroke="#000" stroke-width="2.2"/>
<circle cx="1004.2" cy="1587.6" r="8.7" fill="#fff" stroke="#000" stroke-width="2.2"/>
<circle cx="1004.2" cy="1602.6" r="8.7" fill="#fff" stroke="#000" stroke-width="2.2"/>
<circle cx="1004.2" cy="1620.5" r="8.7" fill="#fff" stroke="#000" stroke-width="2.2"/>
<circle cx="1004.2" cy="1605.6" r="8.7" fill="#fff" stroke="#000" stroke-width="2.2"/>
<circle cx="1004.2" cy="1645.5" r="8.7" fill="#fff" stroke="#000" stroke-width="2.2"/>
<circle cx="1004.2" cy="1653" r="8.7" fill="#fff" stroke="#000" stroke-width="2.2"/>
<circle cx="1004.2" cy="1671.4" r="8.7" fill="#fff" stroke="#000" stroke-width="2.2"/>
<circle cx="1004.2" cy="1679.4" r="8.7" fill="#fff" stroke="#000" stroke-width="2.2"/>
<circle cx="1084.4" cy="1398.7" r="8.7" fill="#999" stroke="#000" stroke-width="2.2"/>
<circle cx="1084.4" cy="1499.6" r="8.7" fill="#999" stroke="#000" stroke-width="2.2"/>
<circle cx="1084.4" cy="1549" r="8.7" fill="#999" stroke="#000" stroke-width="2.2"/>
<circle cx="1084.4" cy="1590.5" r="8.7" fill="#999" stroke="#000" stroke-width="2.2"/>
<circle cx="1084.4" cy="1599.2" r="8.7" fill="#999" stroke="#000" stroke-width="2.2"/>
<circle cx="1084.4" cy="1617.7" r="8.7" fill="#999" stroke="#000" stroke-width="2.2"/>
<circle cx="1084.4" cy="1629.7" r="8.7" fill="#999" stroke="#000" stroke-width="2.2"/>
<circle cx="1084.4" cy="1622" r="8.7" fill="#999" stroke="#000" stroke-width="2.2"/>
<circle cx="1084.4" cy="1655.2" r="8.7" fill="#999" stroke="#000" stroke-width="2.2"/>
<circle cx="1164.3" cy="1485.6" r="8.7" fill="#fff" stroke="#000" stroke-width="2.2"/>
<circle cx="1164.3" cy="1509.4" r="8.7" fill="#fff" stroke="#000" stroke-width="2.2"/>
<circle cx="1164.3" cy="1566.5" r="8.7" fill="#fff" stroke="#000" stroke-width="2.2"/>
<circle cx="1164.3" cy="1583.9" r="8.7" fill="#fff" stroke="#000" stroke-width="2.2"/>
<circle cx="1164.3" cy="1600.3" r="8.7" fill="#fff" stroke="#000" stroke-width="2.2"/>
<circle cx="1164.3" cy="1604.2" r="8.7" fill="#fff" stroke="#000" stroke-width="2.2"/>
<circle cx="1164.3" cy="1621" r="8.7" fill="#fff" stroke="#000" stroke-width="2.2"/>
<circle cx="1164.3" cy="1623.2" r="8.7" fill="#fff" stroke="#000" stroke-width="2.2"/>
<circle cx="1164.3" cy="1647.1" r="8.7" fill="#fff" stroke="#000" stroke-width="2.2"/>
<circle cx="1164.3" cy="1662.4" r="8.7" fill="#fff" stroke="#000" stroke-width="2.2"/>
<circle cx="1164.3" cy="1667.4" r="8.7" fill="#fff" stroke="#000" stroke-width="2.2"/>
<circle cx="1164.3" cy="1671.8" r="8.7" fill="#fff" stroke="#000" stroke-width="2.2"/>
<circle cx="1164.3" cy="1699.4" r="8.7" fill="#fff" stroke="#000" stroke-width="2.2"/>
<circle cx="1244.5" cy="1355.7" r="8.7" fill="#999" stroke="#000" stroke-width="2.2"/>
<circle cx="1244.5" cy="1453.8" r="8.7" fill="#999" stroke="#000" stroke-width="2.2"/>
<circle cx="1244.5" cy="1463" r="8.7" fill="#999" stroke="#000" stroke-width="2.2"/>
<circle cx="1244.5" cy="1499.1" r="8.7" fill="#999" stroke="#000" stroke-width="2.2"/>
<circle cx="1244.5" cy="1595.5" r="8.7" fill="#999" stroke="#000" stroke-width="2.2"/>
<circle cx="1244.5" cy="1633" r="8.7" fill="#999" stroke="#000" stroke-width="2.2"/>
<circle cx="1244.5" cy="1622.5" r="8.7" fill="#999" stroke="#000" stroke-width="2.2"/>
<circle cx="1244.5" cy="1679.8" r="8.7" fill="#999" stroke="#000" stroke-width="2.2"/>
<circle cx="1244.5" cy="1664.6" r="8.7" fill="#999" stroke="#000" stroke-width="2.2"/>
<path d="M791.4 1225 L791.4 1734 L1300 1734" fill="none" stroke="#000" stroke-width="2.3"/>
<path d="M779 1733.9 L791.4 1733.9" stroke="#000" stroke-width="2.3"/>
<text font-size="35" text-anchor="end" font-weight="normal" transform="translate(775.5 1745.8) scale(0.945 1)">50</text>
<path d="M779 1632.3 L791.4 1632.3" stroke="#000" stroke-width="2.3"/>
<text font-size="35" text-anchor="end" font-weight="normal" transform="translate(775.5 1644.2) scale(0.945 1)">100</text>
<path d="M779 1530.7 L791.4 1530.7" stroke="#000" stroke-width="2.3"/>
<text font-size="35" text-anchor="end" font-weight="normal" transform="translate(775.5 1542.6) scale(0.945 1)">150</text>
<path d="M779 1429.1 L791.4 1429.1" stroke="#000" stroke-width="2.3"/>
<text font-size="35" text-anchor="end" font-weight="normal" transform="translate(775.5 1441.0) scale(0.945 1)">200</text>
<path d="M779 1327.5 L791.4 1327.5" stroke="#000" stroke-width="2.3"/>
<text font-size="35" text-anchor="end" font-weight="normal" transform="translate(775.5 1339.4) scale(0.945 1)">250</text>
<path d="M779 1225.9 L791.4 1225.9" stroke="#000" stroke-width="2.3"/>
<text font-size="35" text-anchor="end" font-weight="normal" transform="translate(775.5 1237.8) scale(0.945 1)">300</text>
<path d="M844.2 1734 L844.2 1745.8" stroke="#000" stroke-width="2.3"/>
<text font-size="35.5" text-anchor="end" font-weight="normal" transform="translate(854.7 1775.6) rotate(-45) scale(0.925 1)">Control 10 min</text>
<path d="M924.2 1734 L924.2 1745.8" stroke="#000" stroke-width="2.3"/>
<text font-size="35.5" text-anchor="end" font-weight="normal" transform="translate(934.7 1775.6) rotate(-45) scale(0.925 1)">SCI 10 min</text>
<path d="M1004.2 1734 L1004.2 1745.8" stroke="#000" stroke-width="2.3"/>
<text font-size="35.5" text-anchor="end" font-weight="normal" transform="translate(1014.7 1775.6) rotate(-45) scale(0.925 1)">Control 20 min</text>
<path d="M1084.4 1734 L1084.4 1745.8" stroke="#000" stroke-width="2.3"/>
<text font-size="35.5" text-anchor="end" font-weight="normal" transform="translate(1094.9 1775.6) rotate(-45) scale(0.925 1)">SCI 20 min</text>
<path d="M1164.3 1734 L1164.3 1745.8" stroke="#000" stroke-width="2.3"/>
<text font-size="35.5" text-anchor="end" font-weight="normal" transform="translate(1174.8 1775.6) rotate(-45) scale(0.925 1)">Control 30 min</text>
<path d="M1244.5 1734 L1244.5 1745.8" stroke="#000" stroke-width="2.3"/>
<text font-size="35.5" text-anchor="end" font-weight="normal" transform="translate(1255.0 1775.6) rotate(-45) scale(0.925 1)">SCI 30 min</text>
<text font-size="37" text-anchor="middle" font-weight="normal" transform="translate(706 1478.8) rotate(-90) scale(0.884 1)">ES MEP (% of baseline MEP)</text>
</svg>
</body></html>
